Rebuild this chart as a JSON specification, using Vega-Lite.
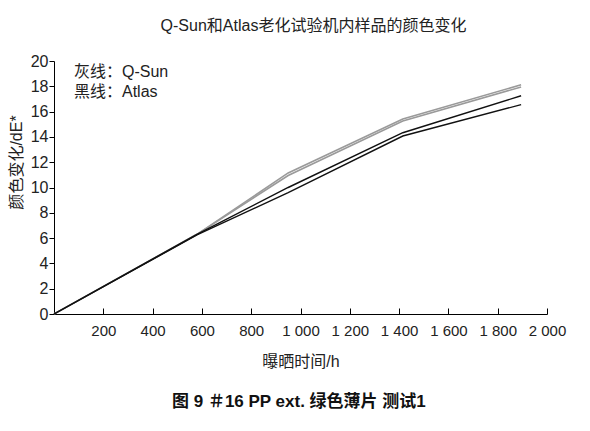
{
  "$schema": "https://vega.github.io/schema/vega-lite/v6.json",
  "padding": {"left": 8, "top": 18, "right": 20, "bottom": 18},
  "background": "white",
  "title": {
    "text": "图 9  ＃16 PP ext. 绿色薄片 测试1",
    "orient": "bottom",
    "anchor": "middle",
    "fontSize": 17,
    "fontWeight": "bold",
    "color": "#111",
    "offset": 25,
    "dx": 12
  },
  "config": {
    "font": "Liberation Sans, Noto Sans CJK SC, sans-serif",
    "view": {"stroke": null},
    "axis": {
      "grid": false,
      "labelFontSize": 16,
      "titleFontSize": 16,
      "titleFontWeight": "normal",
      "labelColor": "#222",
      "titleColor": "#222",
      "domainColor": "#000",
      "tickColor": "#000",
      "domainWidth": 1,
      "tickWidth": 1,
      "labelOverlap": false,
      "labelFlush": false
    }
  },
  "vconcat": [
    {
      "title": {
        "text": "Q-Sun和Atlas老化试验机内样品的颜色变化",
        "anchor": "middle",
        "fontSize": 16,
        "fontWeight": "normal",
        "color": "#222",
        "dx": 13,
        "offset": 19
      },
      "width": 493,
      "height": 253,
      "data": {
        "values": [
          {"t": 0, "dE": 0, "machine": "Q-Sun", "run": "Q-Sun 1"},
          {"t": 580, "dE": 6.3, "machine": "Q-Sun", "run": "Q-Sun 1"},
          {"t": 950, "dE": 11.15, "machine": "Q-Sun", "run": "Q-Sun 1"},
          {"t": 1415, "dE": 15.42, "machine": "Q-Sun", "run": "Q-Sun 1"},
          {"t": 1895, "dE": 18.12, "machine": "Q-Sun", "run": "Q-Sun 1"},
          {"t": 0, "dE": 0, "machine": "Q-Sun", "run": "Q-Sun 2"},
          {"t": 580, "dE": 6.3, "machine": "Q-Sun", "run": "Q-Sun 2"},
          {"t": 950, "dE": 10.95, "machine": "Q-Sun", "run": "Q-Sun 2"},
          {"t": 1415, "dE": 15.25, "machine": "Q-Sun", "run": "Q-Sun 2"},
          {"t": 1895, "dE": 17.95, "machine": "Q-Sun", "run": "Q-Sun 2"},
          {"t": 0, "dE": 0, "machine": "Atlas", "run": "Atlas 1"},
          {"t": 580, "dE": 6.3, "machine": "Atlas", "run": "Atlas 1"},
          {"t": 950, "dE": 10.0, "machine": "Atlas", "run": "Atlas 1"},
          {"t": 1415, "dE": 14.33, "machine": "Atlas", "run": "Atlas 1"},
          {"t": 1895, "dE": 17.25, "machine": "Atlas", "run": "Atlas 1"},
          {"t": 0, "dE": 0, "machine": "Atlas", "run": "Atlas 2"},
          {"t": 580, "dE": 6.25, "machine": "Atlas", "run": "Atlas 2"},
          {"t": 950, "dE": 9.6, "machine": "Atlas", "run": "Atlas 2"},
          {"t": 1415, "dE": 14.07, "machine": "Atlas", "run": "Atlas 2"},
          {"t": 1895, "dE": 16.55, "machine": "Atlas", "run": "Atlas 2"}
        ]
      },
      "mark": {"type": "line", "strokeCap": "butt"},
      "encoding": {
        "x": {
          "field": "t",
          "type": "quantitative",
          "title": "曝晒时间/h",
          "scale": {"domain": [0, 2000], "nice": false},
          "axis": {
            "values": [0, 200, 400, 600, 800, 1000, 1200, 1400, 1600, 1800, 2000],
            "tickSize": -6,
            "labelPadding": 15,
            "labelFontSize": 15,
            "labelExpr": "datum.value == 0 ? '' : replace(format(datum.value, ','), ',', ' ')",
            "titlePadding": 15
          }
        },
        "y": {
          "field": "dE",
          "type": "quantitative",
          "title": "颜色变化/dE*",
          "scale": {"domain": [0, 20], "nice": false},
          "axis": {
            "values": [0, 2, 4, 6, 8, 10, 12, 14, 16, 18, 20],
            "tickSize": 5,
            "labelPadding": 1,
            "titleX": -38,
            "titleY": 101,
            "titleBaseline": "middle",
            "titleAlign": "center"
          }
        },
        "detail": {"field": "run"},
        "color": {
          "field": "machine",
          "type": "nominal",
          "scale": {"domain": ["Q-Sun", "Atlas"], "range": ["#9a9a9a", "#111111"]},
          "legend": {
            "title": null,
            "orient": "none",
            "legendX": 4,
            "legendY": 3,
            "symbolSize": 0,
            "symbolStrokeWidth": 0,
            "symbolOpacity": 0,
            "labelOffset": 0,
            "labelFontSize": 16,
            "labelColor": "#222",
            "rowPadding": 4,
            "labelExpr": "datum.label == 'Q-Sun' ? '灰线：Q-Sun' : '黑线：Atlas'"
          }
        },
        "strokeWidth": {
          "field": "machine",
          "type": "nominal",
          "scale": {"domain": ["Q-Sun", "Atlas"], "range": [1.6, 1.4]},
          "legend": null
        }
      }
    }
  ]
}
